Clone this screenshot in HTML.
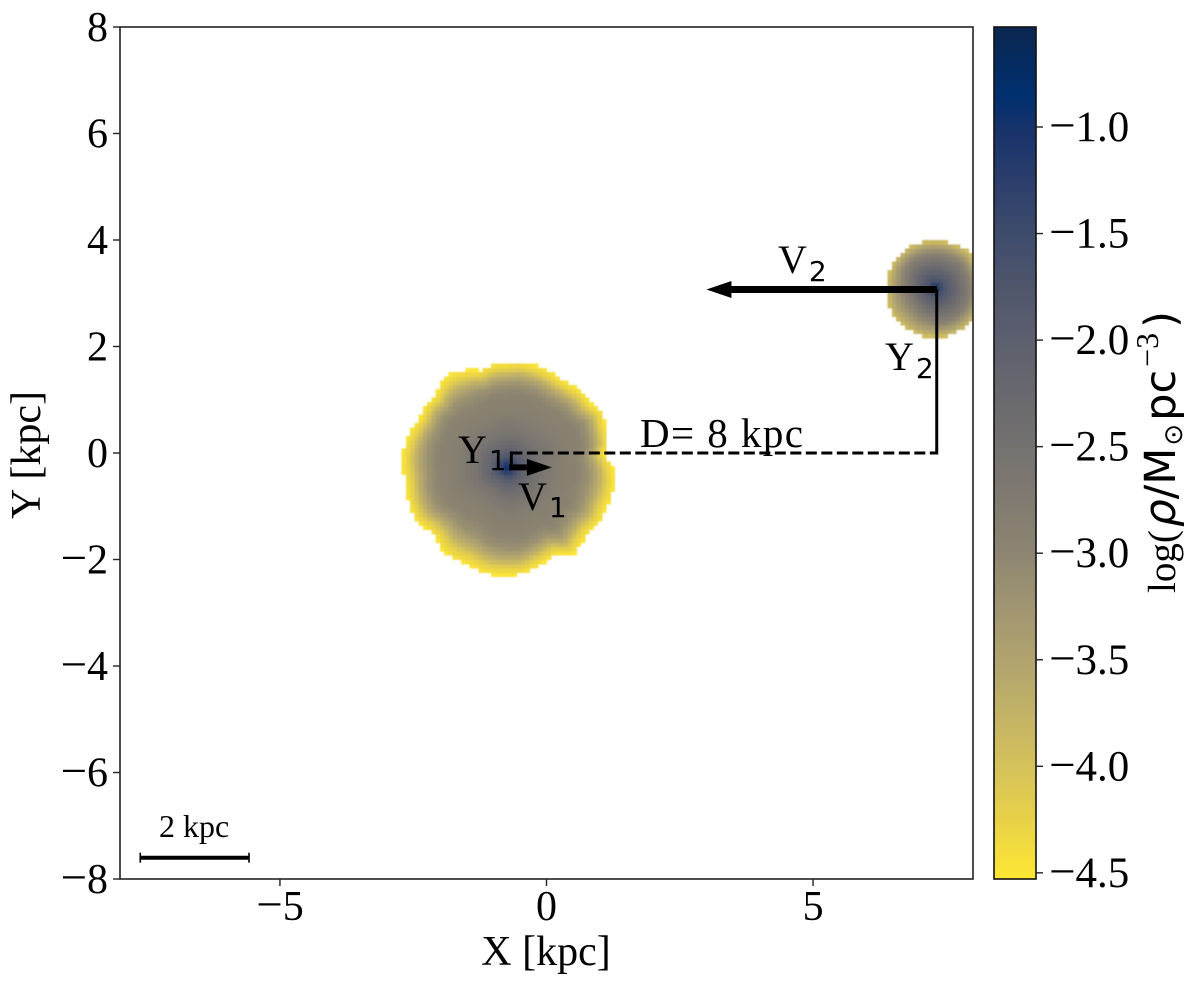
<!DOCTYPE html>
<html lang="en">
<head>
<meta charset="utf-8">
<title>Density map</title>
<style>
html,body{margin:0;padding:0;background:#fff;width:1200px;height:987px;overflow:hidden}
svg{display:block}
text{font-family:"Liberation Serif",serif;fill:#000}
.sub{font-family:"DejaVu Sans",sans-serif}
</style>
</head>
<body>
<svg id="chart" xmlns="http://www.w3.org/2000/svg" width="1200" height="987" viewBox="0 0 1200 987">
  <defs>
    <clipPath id="plot-clip"><rect x="120" y="27" width="853" height="852"/></clipPath>
    <linearGradient id="cb-gradient" x1="0" y1="0" x2="0" y2="1"></linearGradient>
    <filter id="soft" x="-5%" y="-5%" width="110%" height="110%"><feGaussianBlur stdDeviation="0.9"/></filter>
  </defs>
  <rect x="120" y="27" width="853" height="852" fill="#fff"/>
  <g id="cells" clip-path="url(#plot-clip)"><g id="cells-inner" filter="url(#soft)" shape-rendering="crispEdges"></g></g>
  <g id="annotations"></g>
  <rect x="120" y="27" width="853" height="852" fill="none" stroke="#222" stroke-width="1.6"/>
  <g id="x-ticks"></g>
  <g id="y-ticks"></g>
  <text x="546" y="965" font-size="42" text-anchor="middle">X [kpc]</text>
  <text transform="translate(40,455) rotate(-90)" font-size="42" text-anchor="middle">Y [kpc]</text>

  <rect id="cb-bar" x="994" y="27" width="42" height="852" fill="url(#cb-gradient)" stroke="#111" stroke-width="1.6"/>
  <g id="cb-ticks"></g>
  <text transform="translate(1175,593) rotate(-90)" font-size="39">log(<tspan class="sub" font-style="italic" font-size="44" dx="3">ρ</tspan><tspan class="sub" font-size="43">/M</tspan><tspan class="sub" font-size="26" dy="7" dx="2">⊙</tspan><tspan class="sub" font-size="43" dy="-7" dx="3">pc</tspan><tspan font-size="32" dy="-17" dx="3">−3</tspan><tspan dy="17" class="sub" font-size="43" dx="5">)</tspan></text>

  <text x="778" y="273" font-size="40">V<tspan class="sub" font-size="28" dx="2" dy="8">2</tspan></text>
  <text x="885" y="370" font-size="40">Y<tspan class="sub" font-size="28" dx="2" dy="8">2</tspan></text>
  <text x="458" y="463" font-size="40">Y<tspan class="sub" font-size="28" dx="2" dy="7">1</tspan></text>
  <text x="518" y="510" font-size="40">V<tspan class="sub" font-size="28" dx="2" dy="7">1</tspan></text>
  <text x="640" y="447" font-size="41" textLength="163" lengthAdjust="spacing">D= 8 kpc</text>
  <text x="159" y="837" font-size="32">2 kpc</text>
</svg>
<script>
// ---- chart data ----
const xTickValues = [-5, 0, 5];
const yTickValues = [-8, -6, -4, -2, 0, 2, 4, 6, 8];
const cbTickValues = [-1.0, -1.5, -2.0, -2.5, -3.0, -3.5, -4.0, -4.5];
const colorLevels = [-0.53, -0.85, -1.0, -1.25, -1.5, -1.75, -2.0, -2.25, -2.5, -2.75, -3.0, -3.25, -3.5, -3.75, -4.0, -4.25, -4.53];
const colorHexes = ['#0b2750', '#002f6f', '#15326b', '#2b3e6b', '#3e4b6c', '#4f566c', '#5c5f6e', '#68686e', '#74716f', '#807a71', '#8d8571', '#9f9571', '#b0a36e', '#c2b266', '#d4c25a', '#e8d148', '#fde733'];

const haloCenterX = [-0.74, 7.3];
const haloCenterY = [-0.27, 3.1];
// Boundary radius (kpc) read at even angular steps, counter-clockwise from +X
const halo1Boundary = [1.98, 1.85, 1.97, 2.0, 2.06, 1.98, 2.0, 1.96, 1.94, 1.98, 1.99, 2.0, 1.96, 1.96, 1.89, 1.98, 2.06, 2.02, 1.9, 1.93, 1.88, 1.92, 1.96, 1.98, 1.97, 1.93, 1.95, 1.98, 1.99, 1.9, 1.88, 1.97, 2.0, 1.96, 2.0, 2.03, 2.02, 2.02, 1.95, 1.9, 1.87, 2.05, 1.98, 1.95, 2.02, 2.0, 2.04, 2.03];
const halo2Boundary = [0.92, 0.9, 0.9, 0.92, 0.9, 0.89, 0.89, 0.9, 0.92, 0.93, 0.93, 0.92, 0.92, 0.94, 0.96, 0.94, 0.94, 0.93, 0.92, 0.92, 0.92, 0.92, 0.92, 0.92];
// Relative thickness of the pale outer rim at 15 degree steps
const halo1Rim = [1.1, 0.9, 0.9, 1, 1, 1, 1, 1, 1.3, 1, 1, 1.1, 1.2, 1.1, 1.2, 1.3, 1.5, 1.3, 1.2, 1.1, 1.1, 1.1, 1.1, 1.2];
const halo2Rim = [1, 1, 1, 1, 1, 1, 1, 1, 1, 1, 1, 1.2, 1.3, 1.4, 1.5, 1.5, 1.4, 1.3, 1.1, 1, 1, 1, 1, 1];
// Radial profile: fraction of boundary radius vs log density
const profileFractions = [0, 0.03, 0.07, 0.12, 0.2, 0.35, 0.55, 0.75, 0.83, 0.9, 0.95, 1.0];
const halo1Profile = [-0.85, -1.05, -1.4, -1.8, -2.2, -2.6, -2.85, -2.95, -3.2, -3.7, -4.2, -4.5];
const halo2Profile = [-0.85, -1.0, -1.25, -1.5, -1.75, -2.05, -2.45, -2.85, -3.15, -3.45, -3.7, -3.95];

const velocityX = [0.8, -4.32];   // V1, V2 arrow vectors (kpc)
const velocityStartX = [-0.7, 7.32];
const velocityStartY = [-0.27, 3.07];
const separationY = [0];
const separationX = [-0.66, 7.32];
const scaleBarX = [-7.62, -5.58];
const scaleBarY = [-7.6];

// ---- axis functions ----
const NS = 'http://www.w3.org/2000/svg';
const sx = v => 546.5 + v * (853 / 16);
const sy = v => 453 - v * (852 / 16);
const scb = v => 127 + (-1.0 - v) * 213.1;
function mk(parent, tag, attrs) {
  const el = document.createElementNS(NS, tag);
  for (const k in attrs) el.setAttribute(k, attrs[k]);
  parent.appendChild(el);
  return el;
}
function writeLabel(el, body, negative) {
  if (negative) {
    const m = mk(el, 'tspan', {'font-size': 47});
    m.textContent = '\u2212';
  }
  const d = mk(el, 'tspan', {});
  d.textContent = body;
}

// ---- ticks ----
const gx = document.getElementById('x-ticks');
xTickValues.forEach(v => {
  const t = mk(gx, 'line', {x1: sx(v), x2: sx(v), y1: 879, y2: 886, stroke: '#222', 'stroke-width': 1.4});
  
  
  const l = mk(gx, 'text', {x: sx(v), y: 920, 'font-size': 42, 'text-anchor': 'middle'});
  writeLabel(l, String(Math.abs(v)), v < 0);
  
  
});
const gy = document.getElementById('y-ticks');
yTickValues.forEach(v => {
  const t = mk(gy, 'line', {x1: 113, x2: 120, y1: sy(v), y2: sy(v), stroke: '#222', 'stroke-width': 1.4});
  
  
  const l = mk(gy, 'text', {x: 108, y: sy(v) + 14, 'font-size': 42, 'text-anchor': 'end'});
  writeLabel(l, String(Math.abs(v)), v < 0);
  
  
});
const gc = document.getElementById('cb-ticks');
cbTickValues.forEach(v => {
  const t = mk(gc, 'line', {x1: 1036, x2: 1043, y1: scb(v), y2: scb(v), stroke: '#222', 'stroke-width': 1.4});
  
  
  const l = mk(gc, 'text', {x: 1049, y: scb(v) + 14, 'font-size': 43});
  writeLabel(l, Math.abs(v).toFixed(1), v < 0);
  
  
});

// ---- colour scale ----
const grad = document.getElementById('cb-gradient');
colorLevels.forEach((v, i) => {
  mk(grad, 'stop', {offset: (scb(v) - 27) / 852, 'stop-color': colorHexes[i]});
});
function hexRgb(h) {
  return [parseInt(h.slice(1, 3), 16), parseInt(h.slice(3, 5), 16), parseInt(h.slice(5, 7), 16)];
}
function colorFor(v) {
  if (v >= colorLevels[0]) return colorHexes[0];
  for (let i = 1; i < colorLevels.length; i++) {
    if (v >= colorLevels[i]) {
      const f = (colorLevels[i - 1] - v) / (colorLevels[i - 1] - colorLevels[i]);
      const a = hexRgb(colorHexes[i - 1]), b = hexRgb(colorHexes[i]);
      return 'rgb(' + a.map((c, k) => Math.round(c + (b[k] - c) * f)).join(',') + ')';
    }
  }
  return colorHexes[colorHexes.length - 1];
}
function lookup(xs, ys, x) {
  for (let i = 1; i < xs.length; i++) {
    if (x <= xs[i]) return ys[i - 1] + (ys[i] - ys[i - 1]) * (x - xs[i - 1]) / (xs[i] - xs[i - 1]);
  }
  return ys[ys.length - 1];
}
function angular(arr, deg) {
  const p = ((deg % 360) + 360) % 360 / (360 / arr.length), i = Math.floor(p), f = p - i;
  return arr[i % arr.length] * (1 - f) + arr[(i + 1) % arr.length] * f;
}

// ---- density cells, on the 0.08 kpc image grid ----
const gridStep = 0.08;
const inner = document.getElementById('cells-inner');
function drawHalo(cx, cy, boundary, rim, profile, name) {
  for (let i = 0; i < 200; i++) {
    const x = -8 + gridStep * (i + 0.5);
    if (Math.abs(x - cx) > 2.3) continue;
    for (let j = 0; j < 200; j++) {
      const y = -8 + gridStep * (j + 0.5);
      if (Math.abs(y - cy) > 2.3) continue;
      const dx = x - cx, dy = y - cy;
      const r = Math.hypot(dx, dy);
      const deg = Math.atan2(dy, dx) * 180 / Math.PI;
      const R = angular(boundary, deg);
      if (r > R) continue;
      const f = r / R;
      const s = 1 - 0.3 * angular(rim, deg);
      const g = f > s ? 0.75 + (f - s) / (1 - s) * 0.25 : f * 0.75 / s;
      const c = mk(inner, 'rect', {
        x: sx(x - gridStep / 2), y: sy(y + gridStep / 2),
        width: sx(gridStep) - sx(0) + 0.5, height: sy(0) - sy(gridStep) + 0.5,
        fill: colorFor(lookup(profileFractions, profile, g))
      });
      
      
    }
  }
}
drawHalo(haloCenterX[0], haloCenterY[0], halo1Boundary, halo1Rim, halo1Profile, 'halo-1-cell');
drawHalo(haloCenterX[1], haloCenterY[1], halo2Boundary, halo2Rim, halo2Profile, 'halo-2-cell');

// ---- annotation lines and arrows ----
const ga = document.getElementById('annotations');
const dash = mk(ga, 'line', {x1: sx(separationX[0]), x2: sx(separationX[1]), y1: sy(separationY[0]), y2: sy(separationY[0]), stroke: '#000', 'stroke-width': 3, 'stroke-dasharray': '11 4.5'});


const drop2 = mk(ga, 'line', {x1: sx(separationX[1]), x2: sx(separationX[1]), y1: sy(velocityStartY[1]), y2: sy(separationY[0]) + 1.5, stroke: '#000', 'stroke-width': 3});


const drop1 = mk(ga, 'line', {x1: sx(separationX[0]), x2: sx(separationX[0]), y1: sy(separationY[0]) - 1.5, y2: sy(velocityStartY[0]), stroke: '#000', 'stroke-width': 3});



function arrow(i, name, w, headLen, headHalf) {
  const x0 = sx(velocityStartX[i]), y0 = sy(velocityStartY[i]), x1 = sx(velocityStartX[i] + velocityX[i]);
  const d = Math.sign(x1 - x0);
  const shaft = mk(ga, 'line', {x1: x0, x2: x1 - d * headLen, y1: y0, y2: y0, stroke: '#000', 'stroke-width': w});
  
  
  const pts = [[x1, y0], [x1 - d * headLen, y0 - headHalf], [x1 - d * headLen, y0 + headHalf]].map(p => p.join(',')).join(' ');
  const head = mk(ga, 'polygon', {points: pts, fill: '#000'});
  
  
}
arrow(0, 'v1-arrow', 6, 25, 8.5);
arrow(1, 'v2-arrow', 7, 25, 8.5);

const sb = mk(ga, 'line', {x1: sx(scaleBarX[0]), x2: sx(scaleBarX[1]), y1: sy(scaleBarY[0]), y2: sy(scaleBarY[0]), stroke: '#000', 'stroke-width': 4});


scaleBarX.forEach(v => {
  const cap = mk(ga, 'line', {x1: sx(v), x2: sx(v), y1: sy(scaleBarY[0]) - 5, y2: sy(scaleBarY[0]) + 5, stroke: '#000', 'stroke-width': 1.6});
  
  
});
</script>
</body>
</html>
